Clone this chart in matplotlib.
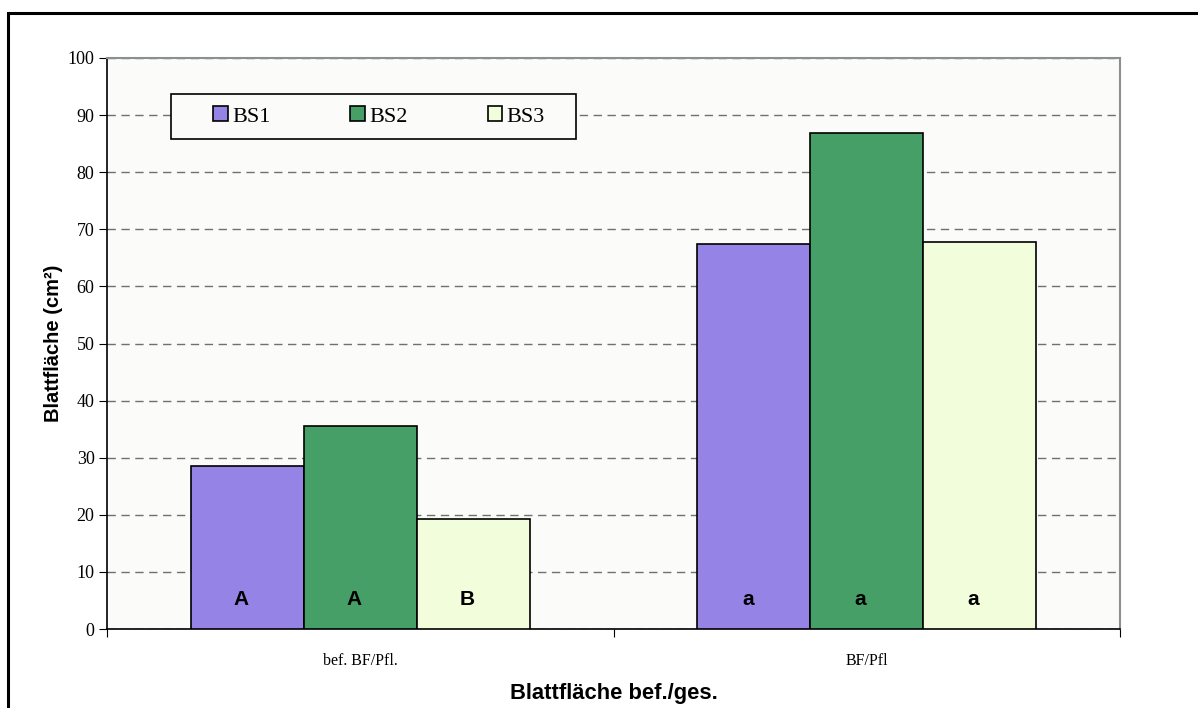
import numpy as np
import matplotlib.pyplot as plt
from matplotlib.patches import Rectangle

categories = ["bef. BF/Pfl.", "BF/Pfl"]
series = ["BS1", "BS2", "BS3"]
bs1 = [28.5, 67.4]
bs2 = [35.5, 86.9]
bs3 = [19.2, 67.8]
letters = [["A", "a"], ["A", "a"], ["B", "a"]]
colors = ["#9683E6", "#469F67", "#F2FDDC"]

fig = plt.figure(figsize=(11.98, 7.08), dpi=100)
fig.patch.set_facecolor("white")
# outer chart frame (right and bottom edges run off the picture)
fig.patches.append(Rectangle((8 / 1198, -0.05), 1.1, (708 - 13) / 708 + 0.05,
                             transform=fig.transFigure, fill=False,
                             edgecolor="black", linewidth=2.2, zorder=0))

ax = fig.add_axes([107 / 1198, (708 - 629) / 708, (1120 - 107) / 1198, (629 - 58) / 708])
ax.set_facecolor("#FBFBF9")

x = np.arange(len(categories))
w = 0.223
values = [bs1, bs2, bs3]
for i, (vals, c, name) in enumerate(zip(values, colors, series)):
    pos = x + (i - 1) * w
    ax.bar(pos, vals, width=w, color=c, edgecolor="black", linewidth=1.2,
           label=name, zorder=3)
    for p, lab in zip(pos, letters[i]):
        ax.text(p - 0.012, 5.2, lab, ha="center", va="center", fontsize=15,
                fontweight="bold", family="Liberation Sans", zorder=4)

ax.set_xlim(-0.5, 1.5)
ax.set_ylim(0, 100)
ax.set_yticks(np.arange(0, 101, 10))
ax.yaxis.grid(True, linestyle=(0, (6, 4)), color="#707070", linewidth=1.0, zorder=0)
ax.set_xticks([-0.5, 0.5, 1.5], minor=False)
ax.set_xticklabels([])
ax.set_xticks(x, minor=True)
ax.set_xticklabels(categories, minor=True, family="Liberation Serif", fontsize=11.5)
ax.tick_params(axis="x", which="minor", length=0, pad=17)
ax.tick_params(axis="x", which="major", length=6, direction="out", color="black")
ax.tick_params(axis="y", length=6, direction="out", labelsize=13, pad=3)
for lab in ax.get_yticklabels():
    lab.set_family("Liberation Serif")

for s in ["left", "bottom"]:
    ax.spines[s].set_color("black")
    ax.spines[s].set_linewidth(1.2)
for s in ["top", "right"]:
    ax.spines[s].set_color("#8A9090")
    ax.spines[s].set_linewidth(1.5)

ax.set_ylabel("Blattfläche (cm²)", family="Liberation Sans", fontweight="bold",
              fontsize=14.5, labelpad=3.5)
ax.set_xlabel("Blattfläche bef./ges.", family="Liberation Sans", fontweight="bold",
              fontsize=15.8, labelpad=10)

# legend box drawn separately so its padding can match the original
box = Rectangle((171 / 1198, (708 - 139) / 708), 405 / 1198, 45 / 708,
                transform=fig.transFigure, facecolor="#FBFBF9",
                edgecolor="black", linewidth=1.2, zorder=4.5, clip_on=False)
ax.add_patch(box)
leg = ax.legend(loc="center", bbox_to_anchor=(379 / 1198, (708 - 116.5) / 708),
                bbox_transform=fig.transFigure, ncol=3, frameon=False,
                prop={"family": "Liberation Serif", "size": 16},
                handlelength=0.65, handleheight=0.65, handletextpad=0.2,
                columnspacing=3.6, borderpad=0.3, borderaxespad=0)
leg.set_zorder(5)

fig.savefig("out.png", dpi=100)
